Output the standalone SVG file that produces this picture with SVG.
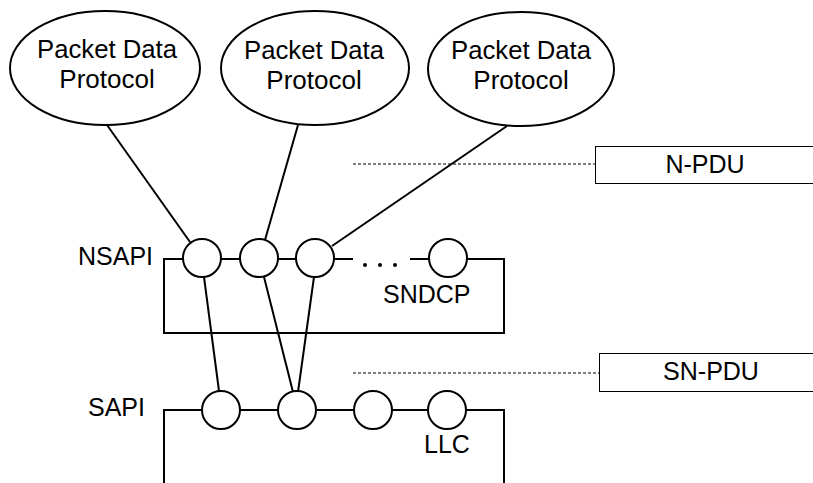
<svg xmlns="http://www.w3.org/2000/svg" width="813" height="483" viewBox="0 0 813 483">
<style>
.s{fill:none;stroke:#000;stroke-width:2}
.c{fill:#fff;stroke:#000;stroke-width:2}
.b{fill:#fff;stroke:#000;stroke-width:1}
.d{fill:none;stroke:#000;stroke-width:1;stroke-dasharray:3 2}
text{font-family:"Liberation Sans",Arial,sans-serif;font-size:25px;fill:#000}
.m{text-anchor:middle}
.e{font-size:26px}
</style>
<rect width="813" height="483" fill="#fff"/>
<g id="connectors">
<line class="s" x1="107" y1="125" x2="190" y2="242"/>
<line class="s" x1="298" y1="125" x2="265" y2="240"/>
<line class="s" x1="507" y1="126" x2="332" y2="246"/>
<line class="s" x1="204" y1="277" x2="219" y2="391"/>
<line class="s" x1="264" y1="277" x2="293" y2="392"/>
<line class="s" x1="314" y1="277" x2="298" y2="392"/>
<line class="d" x1="353" y1="164" x2="595" y2="164"/>
<line class="d" x1="353" y1="373" x2="599" y2="373"/>
</g>
<g id="pdp1"><ellipse class="c" cx="105" cy="68" rx="95" ry="57"/><text class="m e" x="107" y="58" textLength="140" lengthAdjust="spacingAndGlyphs">Packet Data</text><text class="m e" x="107" y="88">Protocol</text></g>
<g id="pdp2"><ellipse class="c" cx="315" cy="68" rx="94" ry="57"/><text class="m e" x="314" y="59" textLength="140" lengthAdjust="spacingAndGlyphs">Packet Data</text><text class="m e" x="314" y="89">Protocol</text></g>
<g id="pdp3"><ellipse class="c" cx="521" cy="69" rx="93" ry="57"/><text class="m e" x="521" y="59" textLength="140" lengthAdjust="spacingAndGlyphs">Packet Data</text><text class="m e" x="521" y="89">Protocol</text></g>
<g id="sndcp">
<polyline class="s" points="353,259 164,259 164,333 504,333 504,259 410,259"/>
<circle cx="365" cy="265" r="2" fill="#000"/><circle cx="380" cy="265" r="2" fill="#000"/><circle cx="395" cy="265" r="2" fill="#000"/>
<circle class="c" cx="202" cy="258" r="19"/>
<circle class="c" cx="259" cy="258" r="19"/>
<circle class="c" cx="315" cy="258" r="19"/>
<circle class="c" cx="448" cy="258" r="19"/>
<text x="383" y="303">SNDCP</text>
<text x="78" y="265">NSAPI</text>
</g>
<g id="llc">
<polyline class="s" points="164,483 164,410 504,410 504,483"/>
<circle class="c" cx="221" cy="410" r="19"/>
<circle class="c" cx="297" cy="410" r="19"/>
<circle class="c" cx="373" cy="410" r="19"/>
<circle class="c" cx="447" cy="410" r="19"/>
<text x="424" y="453">LLC</text>
<text x="88" y="416">SAPI</text>
</g>
<g id="npdu"><rect class="b" x="595.5" y="146.5" width="230" height="37"/><text class="m" x="705" y="173">N-PDU</text></g>
<g id="snpdu"><rect class="b" x="599.5" y="353.5" width="230" height="38"/><text class="m" x="711" y="380">SN-PDU</text></g>
</svg>
